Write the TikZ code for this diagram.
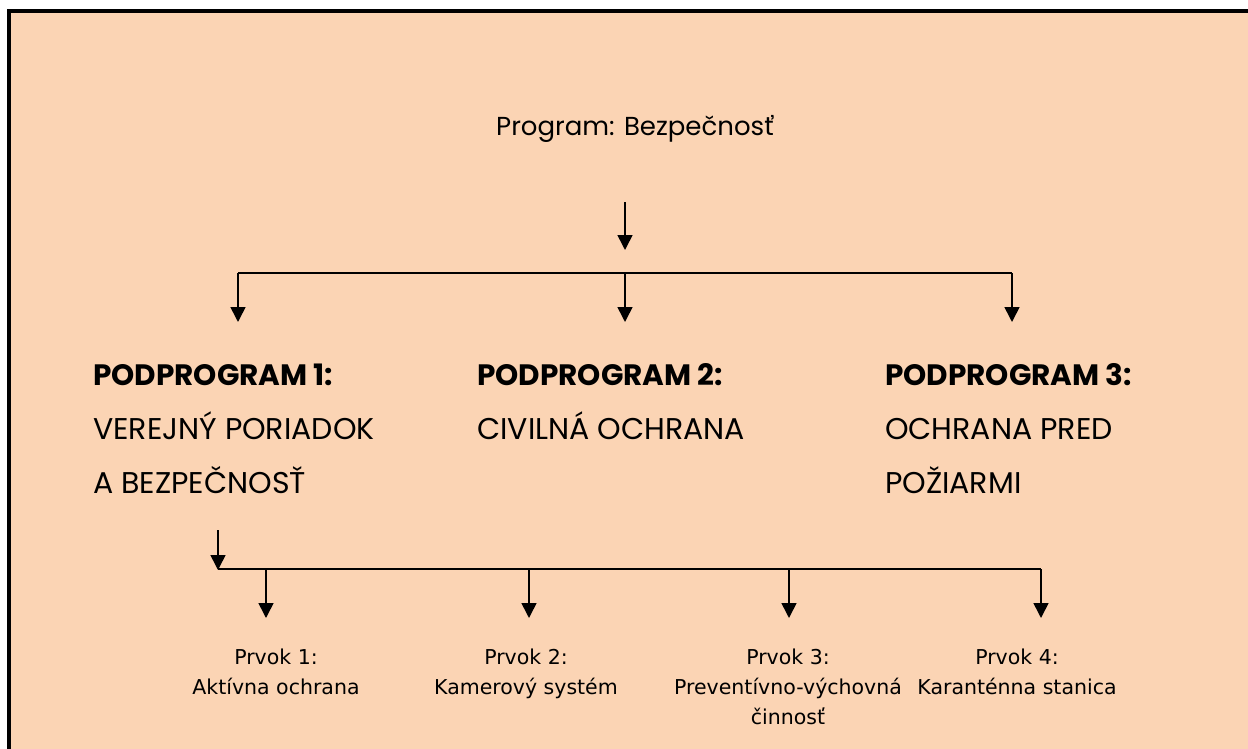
\documentclass[tikz,border=0pt]{standalone}
\usepackage{fontspec}
\setmainfont{Poppins}
\newfontfamily\smallfont{DejaVu Sans}
\usetikzlibrary{arrows.meta}
\definecolor{tanbg}{RGB}{251,212,180}
\tikzset{
  conn/.style={line width=1.6pt, draw=black},
  arr/.style={conn, -{Triangle[width=15pt,length=15pt]}},
  toptext/.style={anchor=base, inner sep=0pt, font=\fontsize{26}{30}\selectfont},
  pptitle/.style={anchor=base west, inner sep=0pt, font=\fontsize{29.5}{34}\selectfont\bfseries},
  pptext/.style={anchor=base west, inner sep=0pt, font=\fontsize{30}{34}\selectfont},
  itemtext/.style={anchor=base, inner sep=0pt, font=\smallfont\fontsize{20.5}{24}\selectfont},
}
\begin{document}
\begin{tikzpicture}[x=1pt,y=-1pt]
\useasboundingbox (0,0) rectangle (1248,749);
\clip (0,0) rectangle (1248,749);
\draw[line width=4pt, fill=tanbg] (9,11) rectangle (1270,770);

% top program
\node[toptext] (prog) at (635,136) {Program: Bezpečnosť};
\coordinate (a0s) at (625,202);
\coordinate (a0e) at (625,250);
\draw[arr] (a0s) -- (a0e);

\coordinate (bl) at (238,273);
\coordinate (bm) at (625,273);
\coordinate (br) at (1012,273);
\coordinate (t1) at (238,322);
\coordinate (t2) at (625,322);
\coordinate (t3) at (1012,322);
\draw[conn] (bl) -- (br);
\draw[arr] (bl) -- (t1);
\draw[arr] (bm) -- (t2);
\draw[arr] (br) -- (t3);

% subprograms
\node[pptitle] (pp1) at (93,385) {PODPROGRAM 1:};
\node[pptext] (pp1a) at (93,439) {VEREJNÝ PORIADOK};
\node[pptext] (pp1b) at (93,493) {A BEZPEČNOSŤ};
\node[pptitle] (pp2) at (477,385) {PODPROGRAM 2:};
\node[pptext] (pp2a) at (477,439) {CIVILNÁ OCHRANA};
\node[pptitle] (pp3) at (885,385) {PODPROGRAM 3:};
\node[pptext] (pp3a) at (885,439) {OCHRANA PRED};
\node[pptext] (pp3b) at (885,493) {POŽIARMI};

% elements
\coordinate (a1s) at (218,530);
\coordinate (a1e) at (218,570);
\draw[arr] (a1s) -- (a1e);
\coordinate (cl) at (218,569);
\coordinate (cr) at (1041,569);
\draw[conn] (cl) -- (cr);
\coordinate (c1) at (266,569);
\coordinate (c2) at (529,569);
\coordinate (c3) at (789,569);
\coordinate (c4) at (1041,569);
\coordinate (e1) at (266,618);
\coordinate (e2) at (529,618);
\coordinate (e3) at (789,618);
\coordinate (e4) at (1041,618);
\draw[arr] (c1) -- (e1);
\draw[arr] (c2) -- (e2);
\draw[arr] (c3) -- (e3);
\draw[arr] (c4) -- (e4);

\node[itemtext] (p1a) at (276,664) {Prvok 1:};
\node[itemtext] (p1b) at (276,694) {Aktívna ochrana};
\node[itemtext] (p2a) at (526,664) {Prvok 2:};
\node[itemtext] (p2b) at (526,694) {Kamerový systém};
\node[itemtext] (p3a) at (788,664) {Prvok 3:};
\node[itemtext] (p3b) at (788,694) {Preventívno-výchovná};
\node[itemtext] (p3c) at (788,724) {činnosť};
\node[itemtext] (p4a) at (1017,664) {Prvok 4:};
\node[itemtext] (p4b) at (1017,694) {Karanténna stanica};
\end{tikzpicture}
\end{document}
